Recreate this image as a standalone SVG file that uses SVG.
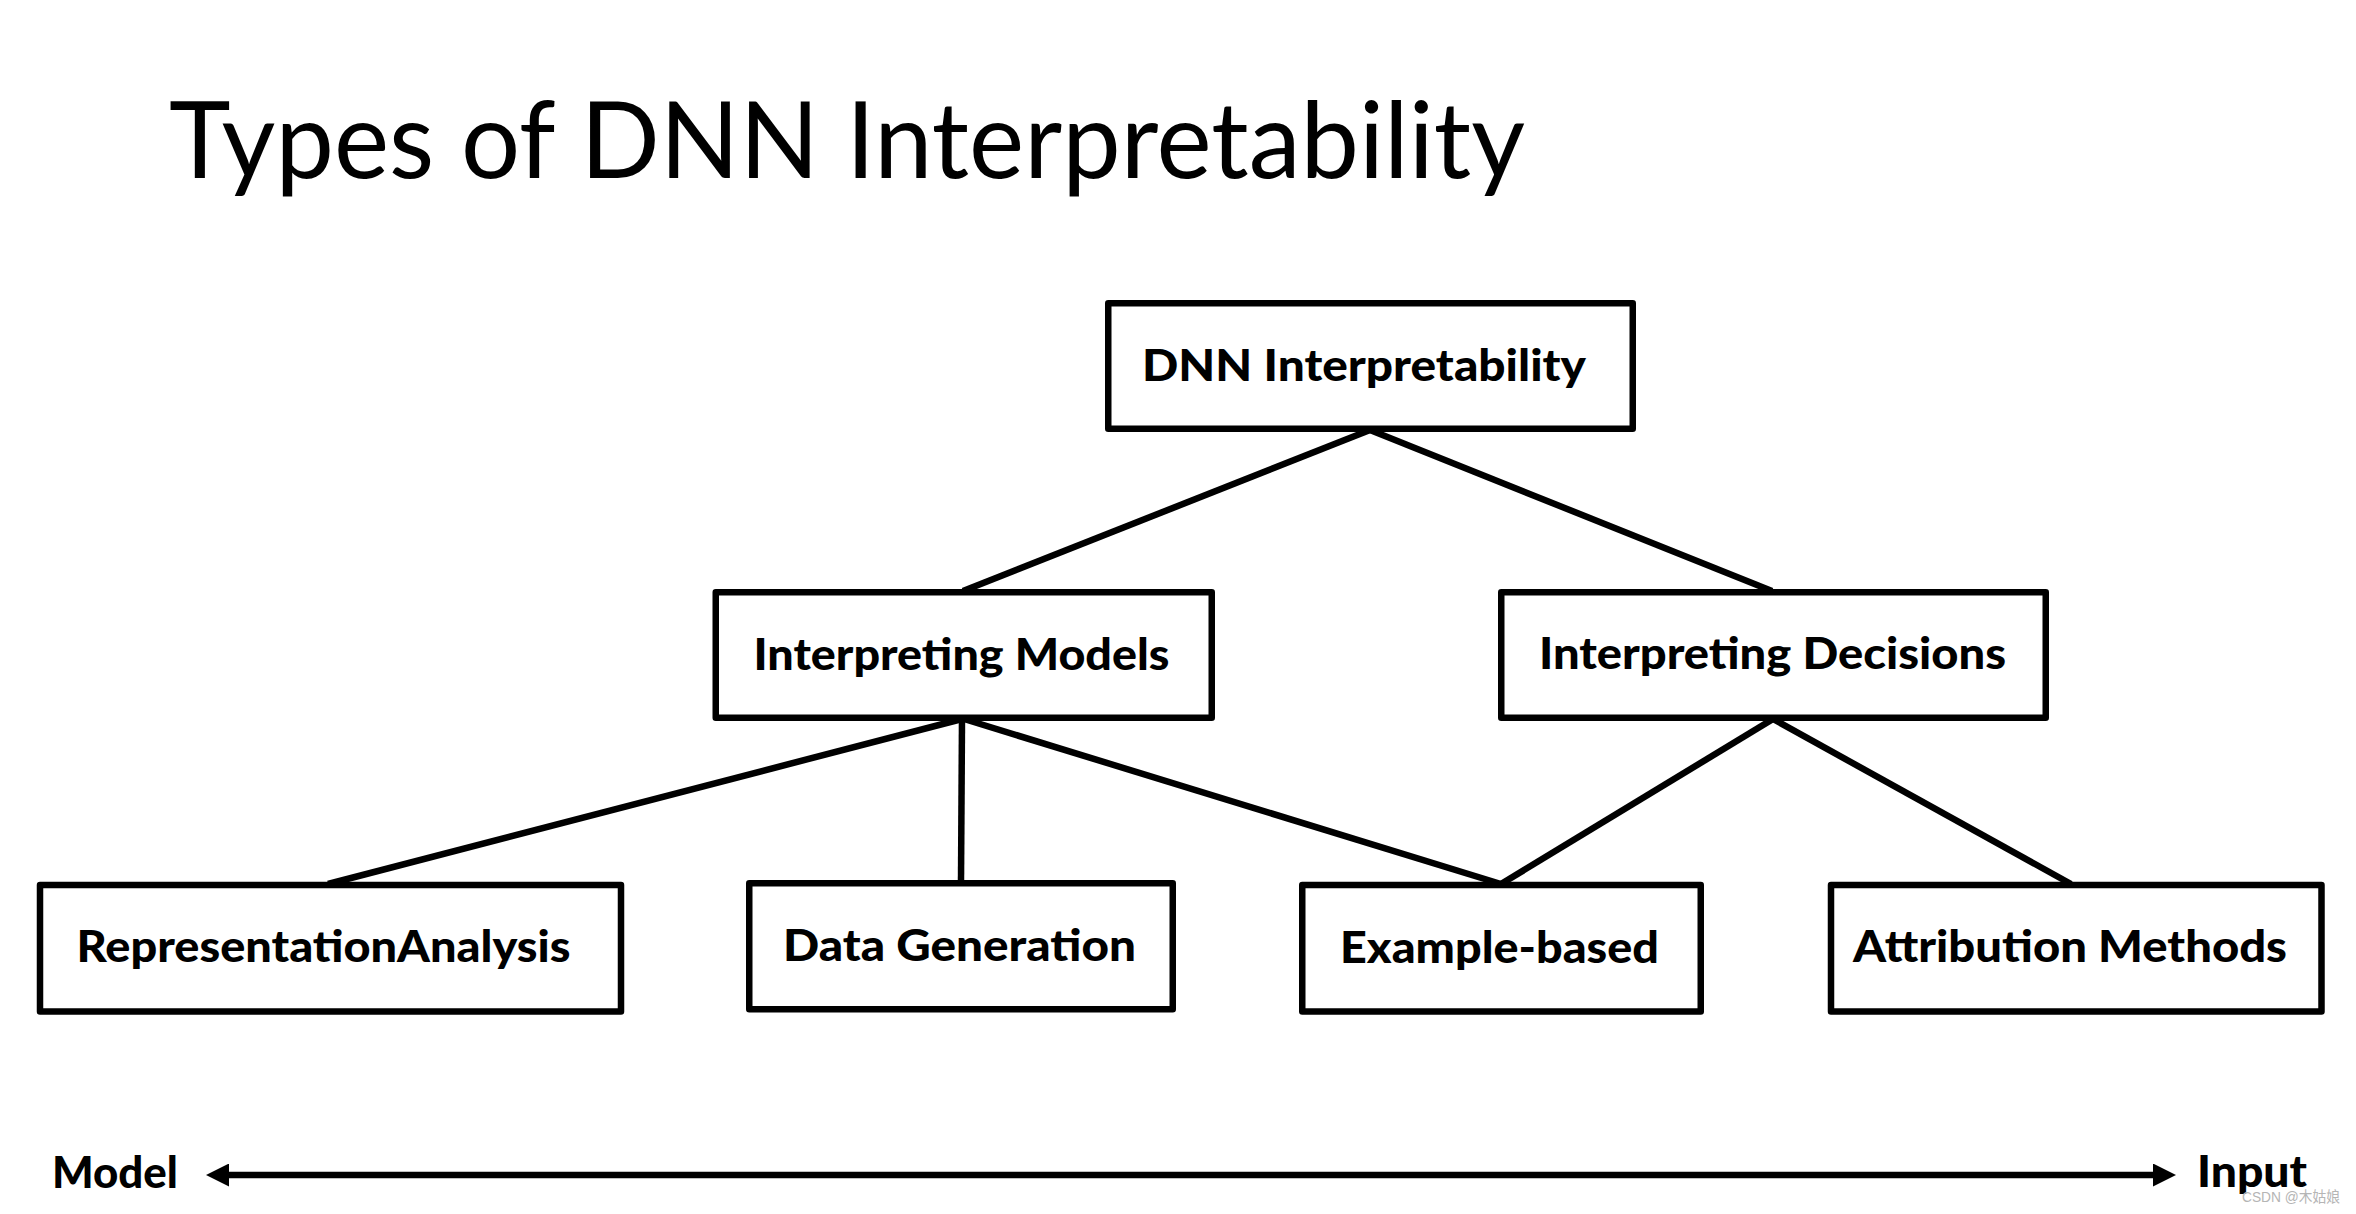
<svg xmlns="http://www.w3.org/2000/svg" width="2356" height="1214" viewBox="0 0 2356 1214">
  <style>
    .box { fill: #ffffff; stroke: #000000; stroke-width: 6.5; stroke-linejoin: round; }
    .lbl { font-family: Lato, "Liberation Sans", sans-serif; font-weight: 900; font-size: 43px; fill: #000000; text-anchor: middle; }
    .edge { stroke: #000000; stroke-width: 6.5; fill: none; }
    .title { font-family: Lato, "Liberation Sans", sans-serif; font-size: 106px; fill: #000000; }
    .axis { font-family: Lato, "Liberation Sans", sans-serif; font-weight: 900; font-size: 43px; fill: #000000; }
    .wm { font-family: "Liberation Sans", "Noto Sans CJK SC", sans-serif; font-size: 15px; fill: #b5b5b5; }
  </style>
  <defs>
    <marker id="arrow" viewBox="0 0 23 23" refX="0" refY="11.5" markerWidth="23" markerHeight="23" markerUnits="userSpaceOnUse" orient="auto-start-reverse">
      <path d="M0,0 L23,11.5 L0,23 Z" fill="#000000"/>
    </marker>
  </defs>
  <rect x="0" y="0" width="2356" height="1214" fill="#ffffff"/>

  <text class="title" x="169" y="178" textLength="1356" lengthAdjust="spacingAndGlyphs">Types of DNN Interpretability</text>

  <g id="connectors">
    <line class="edge" x1="1370" y1="430" x2="963" y2="591"/>
    <line class="edge" x1="1370" y1="430" x2="1772" y2="591"/>
    <line class="edge" x1="962" y1="719" x2="328" y2="884"/>
    <line class="edge" x1="962" y1="719" x2="961" y2="882"/>
    <line class="edge" x1="964" y1="719" x2="1501" y2="884"/>
    <line class="edge" x1="1773" y1="719" x2="1501" y2="884"/>
    <line class="edge" x1="1773" y1="719" x2="2071" y2="884"/>
    <line class="edge" x1="229" y1="1175" x2="2153" y2="1175" marker-start="url(#arrow)" marker-end="url(#arrow)"/>
  </g>

  <g id="node-dnn">
    <rect class="box" x="1108.25" y="303.25" width="524.5" height="125.5"/>
    <text class="lbl" x="1364" y="381" textLength="444" lengthAdjust="spacingAndGlyphs">DNN Interpretability</text>
  </g>
  <g id="node-models">
    <rect class="box" x="715.75" y="592.25" width="496" height="125.5"/>
    <text class="lbl" x="961.5" y="670" textLength="416" lengthAdjust="spacingAndGlyphs">Interpreting Models</text>
  </g>
  <g id="node-decisions">
    <rect class="box" x="1501.25" y="592.25" width="544.5" height="125.5"/>
    <text class="lbl" x="1772.5" y="669" textLength="467" lengthAdjust="spacingAndGlyphs">Interpreting Decisions</text>
  </g>
  <g id="node-representation">
    <rect class="box" x="40" y="885" width="581" height="126.5"/>
    <text class="lbl" x="323.5" y="962" textLength="494" lengthAdjust="spacingAndGlyphs">RepresentationAnalysis</text>
  </g>
  <g id="node-datagen">
    <rect class="box" x="749.25" y="883.25" width="423.5" height="126"/>
    <text class="lbl" x="959.5" y="961" textLength="353" lengthAdjust="spacingAndGlyphs">Data Generation</text>
  </g>
  <g id="node-example">
    <rect class="box" x="1302.25" y="885" width="398.5" height="126.5"/>
    <text class="lbl" x="1499.5" y="963" textLength="319" lengthAdjust="spacingAndGlyphs">Example-based</text>
  </g>
  <g id="node-attribution">
    <rect class="box" x="1831" y="885" width="490.5" height="126.5"/>
    <text class="lbl" x="2070" y="962" textLength="434" lengthAdjust="spacingAndGlyphs">Attribution Methods</text>
  </g>

  <text class="axis" x="52" y="1188" textLength="126" lengthAdjust="spacingAndGlyphs">Model</text>
  <text class="axis" x="2197" y="1187" textLength="110" lengthAdjust="spacingAndGlyphs">Input</text>
  <text class="wm" x="2242" y="1202" textLength="98" lengthAdjust="spacingAndGlyphs">CSDN @木姑娘</text>
</svg>
